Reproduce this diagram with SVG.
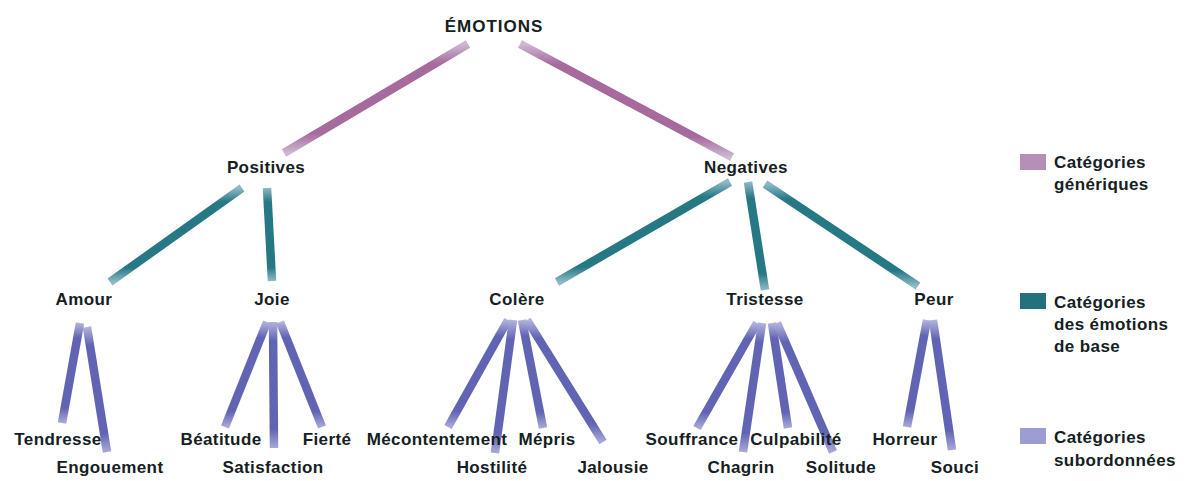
<svg xmlns="http://www.w3.org/2000/svg" width="1186" height="481" viewBox="0 0 1186 481">
<style>
  text { font-family: "Liberation Sans", Arial, sans-serif; font-weight: bold; font-size: 17px; fill: #142022; letter-spacing: 0.4px; }
  .n text { text-anchor: middle; }
  .edge { fill: none; stroke-width: 8.5; stroke-linecap: butt; }
  .gen { stroke: url(#gGen); }
  .base { stroke: url(#gBase); }
  .sub { stroke: url(#gSub); }
</style>
<defs>
  <linearGradient id="gGen" x1="0" y1="0" x2="0" y2="1">
    <stop offset="0" stop-color="#cdb8d2"/>
    <stop offset="0.18" stop-color="#a66a9d"/>
    <stop offset="0.82" stop-color="#a66a9d"/>
    <stop offset="1" stop-color="#cdb8d2"/>
  </linearGradient>
  <linearGradient id="gBase" x1="0" y1="0" x2="0" y2="1">
    <stop offset="0" stop-color="#8fb9c6"/>
    <stop offset="0.15" stop-color="#267885"/>
    <stop offset="0.85" stop-color="#267885"/>
    <stop offset="1" stop-color="#8fb9c6"/>
  </linearGradient>
  <linearGradient id="gSub" x1="0" y1="0" x2="0" y2="1">
    <stop offset="0" stop-color="#b3b3dd"/>
    <stop offset="0.15" stop-color="#6163b3"/>
    <stop offset="0.85" stop-color="#6163b3"/>
    <stop offset="1" stop-color="#a9a9d8"/>
  </linearGradient>
</defs>
<rect width="1186" height="481" fill="#ffffff"/>

<g id="connectors">
  <path class="edge gen" d="M468 44 L284 153"/>
  <path class="edge gen" d="M520 44 L732 157"/>

  <path class="edge base" d="M242 188 L110 282"/>
  <path class="edge base" d="M267 188 L272 281"/>
  <path class="edge base" d="M730 182 L557 282"/>
  <path class="edge base" d="M748 182 L765 290"/>
  <path class="edge base" d="M765 184 L918 286"/>

  <path class="edge sub" d="M80 323 L62 423"/>
  <path class="edge sub" d="M87 327 L107 452"/>
  <path class="edge sub" d="M267 322 L225 427"/>
  <path class="edge sub" d="M273 322 L274 448"/>
  <path class="edge sub" d="M280 322 L322 427"/>
  <path class="edge sub" d="M508 320 L448 427"/>
  <path class="edge sub" d="M513 320 L495 453"/>
  <path class="edge sub" d="M522 320 L543 428"/>
  <path class="edge sub" d="M527 320 L603 442"/>
  <path class="edge sub" d="M757 323 L697 428"/>
  <path class="edge sub" d="M762 323 L743 452"/>
  <path class="edge sub" d="M772 323 L788 428"/>
  <path class="edge sub" d="M777 323 L833 452"/>
  <path class="edge sub" d="M927 320 L907 427"/>
  <path class="edge sub" d="M933 320 L952 450"/>
</g>

<g id="emotions" class="n"><text x="494" y="32" style="letter-spacing:1px">ÉMOTIONS</text></g>
<g id="positives" class="n"><text x="266" y="173">Positives</text></g>
<g id="negatives" class="n"><text x="746" y="173">Negatives</text></g>

<g id="amour" class="n"><text x="84" y="305">Amour</text></g>
<g id="joie" class="n"><text x="272" y="305">Joie</text></g>
<g id="colere" class="n"><text x="517" y="305">Colère</text></g>
<g id="tristesse" class="n"><text x="765" y="305">Tristesse</text></g>
<g id="peur" class="n"><text x="934" y="305">Peur</text></g>

<g id="tendresse" class="n"><text x="58" y="445">Tendresse</text></g>
<g id="engouement" class="n"><text x="110" y="473">Engouement</text></g>
<g id="beatitude" class="n"><text x="221" y="445">Béatitude</text></g>
<g id="satisfaction" class="n"><text x="273" y="473">Satisfaction</text></g>
<g id="fierte" class="n"><text x="327" y="445">Fierté</text></g>
<g id="mecontentement" class="n"><text x="437" y="445">Mécontentement</text></g>
<g id="hostilite" class="n"><text x="492" y="473">Hostilité</text></g>
<g id="mepris" class="n"><text x="547" y="445">Mépris</text></g>
<g id="jalousie" class="n"><text x="613" y="473">Jalousie</text></g>
<g id="souffrance" class="n"><text x="692" y="445">Souffrance</text></g>
<g id="chagrin" class="n"><text x="741" y="473">Chagrin</text></g>
<g id="culpabilite" class="n"><text x="796" y="445">Culpabilité</text></g>
<g id="solitude" class="n"><text x="841" y="473">Solitude</text></g>
<g id="horreur" class="n"><text x="905" y="445">Horreur</text></g>
<g id="souci" class="n"><text x="955" y="473">Souci</text></g>

<g id="legend">
  <g id="legend-generic">
    <rect x="1020" y="154" width="26" height="16" fill="#b58fb8"/>
    <text x="1054" y="168">Catégories</text>
    <text x="1054" y="190">génériques</text>
  </g>
  <g id="legend-base">
    <rect x="1020" y="293" width="26" height="16" fill="#25707f"/>
    <text x="1054" y="308">Catégories</text>
    <text x="1054" y="330">des émotions</text>
    <text x="1054" y="352">de base</text>
  </g>
  <g id="legend-sub">
    <rect x="1020" y="428" width="26" height="16" fill="#9d9dd6"/>
    <text x="1054" y="443">Catégories</text>
    <text x="1054" y="466">subordonnées</text>
  </g>
</g>
</svg>
